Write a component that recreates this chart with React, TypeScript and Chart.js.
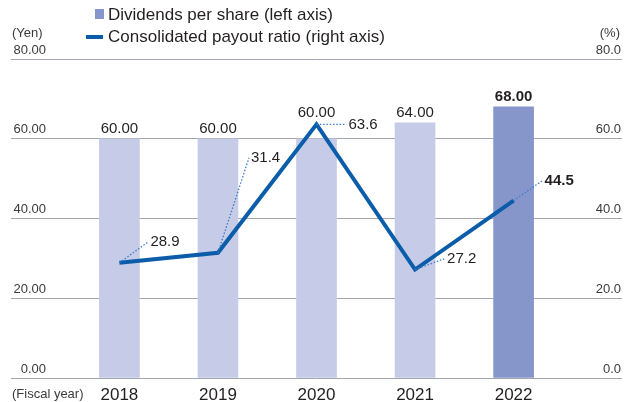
import React, { useEffect, useRef } from "react";
import { Chart, registerables } from "chart.js";

Chart.register(...registerables);

const years = ["2018", "2019", "2020", "2021", "2022"];
const dividends = [60.0, 60.0, 60.0, 64.0, 68.0];
const payoutRatio = [28.9, 31.4, 63.6, 27.2, 44.5];
// label placement offsets (layout only)
const payoutLabelOffsets: [number, number][] = [
  [29, -21],
  [31, -95],
  [30, 0],
  [30, -11],
  [29, -20],
];
const barLabelLift = [10, 10, 26, 10, 10];

const FONT = "'Liberation Sans', Arial, Helvetica, sans-serif";
const LIGHT_BAR = "#c6cbe7";
const DARK_BAR = "#8796ca";
const LINE_COLOR = "#0b5daa";
const TEXT = "#231f20";
const TICK_TEXT = "#3a3a3a";

const overlayPlugin = {
  id: "overlay",
  afterDraw(chart: any) {
    const ctx = chart.ctx as CanvasRenderingContext2D;
    const xS = chart.scales.x;
    const yS = chart.scales.y;
    const y1S = chart.scales.y1;
    ctx.save();
    // y tick labels
    ctx.font = `13px ${FONT}`;
    ctx.fillStyle = TICK_TEXT;
    ctx.textBaseline = "middle";
    ctx.textAlign = "right";
    yS.ticks.forEach((t: any) => {
      const py = yS.getPixelForValue(t.value);
      ctx.fillText(Number(t.value).toFixed(2), 46, py - 9);
    });
    y1S.ticks.forEach((t: any) => {
      const py = y1S.getPixelForValue(t.value);
      ctx.fillText(Number(t.value).toFixed(1), 621, py - 9);
    });
    // unit labels
    ctx.fillText("(%)", 620, 33);
    ctx.textAlign = "left";
    ctx.fillText("(Yen)", 12, 33);
    ctx.fillText("(Fiscal year)", 12, 394);

    // x category labels
    ctx.font = `17px ${FONT}`;
    ctx.fillStyle = TEXT;
    ctx.textAlign = "center";
    years.forEach((yr, i) => {
      ctx.fillText(yr, xS.getPixelForValue(i), 395);
    });

    // legend
    ctx.fillStyle = DARK_BAR;
    ctx.fillRect(95, 9, 9, 10);
    ctx.strokeStyle = LINE_COLOR;
    ctx.lineWidth = 4;
    ctx.beginPath();
    ctx.moveTo(86, 37);
    ctx.lineTo(103, 37);
    ctx.stroke();
    ctx.font = `17px ${FONT}`;
    ctx.fillStyle = TEXT;
    ctx.textAlign = "left";
    ctx.textBaseline = "middle";
    ctx.fillText(chart.data.datasets[1].label, 108, 15);
    ctx.fillText(chart.data.datasets[0].label, 108, 37);

    // bar value labels
    const barMeta = chart.getDatasetMeta(1);
    ctx.textAlign = "center";
    barMeta.data.forEach((el: any, i: number) => {
      const last = i === dividends.length - 1;
      ctx.font = `${last ? "bold " : ""}15px ${FONT}`;
      ctx.fillStyle = TEXT;
      ctx.fillText(dividends[i].toFixed(2), el.x, el.y - barLabelLift[i]);
    });

    // payout labels with dotted leaders
    const lineMeta = chart.getDatasetMeta(0);
    lineMeta.data.forEach((el: any, i: number) => {
      const [dx, dy] = payoutLabelOffsets[i];
      ctx.save();
      ctx.strokeStyle = "#3b7dc9";
      ctx.lineWidth = 1.3;
      ctx.setLineDash([1.5, 1.8]);
      ctx.beginPath();
      ctx.moveTo(el.x, el.y);
      ctx.lineTo(el.x + dx, el.y + dy);
      ctx.stroke();
      ctx.restore();
      const last = i === payoutRatio.length - 1;
      ctx.font = `${last ? "bold " : ""}15px ${FONT}`;
      ctx.fillStyle = TEXT;
      ctx.textAlign = "left";
      ctx.fillText(payoutRatio[i].toFixed(1), el.x + dx + 2, el.y + dy);
    });
    ctx.restore();
  },
};

export default function App() {
  const ref = useRef<HTMLCanvasElement>(null);
  useEffect(() => {
    document.body.style.margin = "0";
    if (!ref.current) return;
    const chart = new Chart(ref.current, {
      type: "bar",
      data: {
        datasets: [
          {
            type: "line",
            label: "Consolidated payout ratio (right axis)",
            data: payoutRatio.map((v, i) => ({ x: i, y: v })),
            yAxisID: "y1",
            borderColor: LINE_COLOR,
            borderWidth: 4,
            pointRadius: 0,
            tension: 0,
            borderJoinStyle: "miter",
            order: 0,
          } as any,
          {
            type: "bar",
            label: "Dividends per share (left axis)",
            data: dividends.map((v, i) => ({ x: i, y: v })),
            yAxisID: "y",
            backgroundColor: dividends.map((_, i) =>
              i === dividends.length - 1 ? DARK_BAR : LIGHT_BAR
            ),
            barThickness: 40,
            order: 1,
          } as any,
        ],
      },
      options: {
        responsive: false,
        animation: false,
        devicePixelRatio: 1,
        layout: { padding: { left: 11, right: 5, top: 59, bottom: 24 } },
        plugins: {
          legend: { display: false },
          tooltip: { enabled: false },
        },
        scales: {
          x: {
            type: "linear",
            min: -1.1,
            max: 5.1,
            offset: false,
            display: false,
            grid: { display: false },
          },
          y: {
            type: "linear",
            position: "left",
            min: 0,
            max: 80,
            ticks: { stepSize: 20, display: false },
            grid: { color: "#a3a7ad", lineWidth: 1, drawTicks: false },
            border: { display: false },
          },
          y1: {
            type: "linear",
            position: "right",
            min: 0,
            max: 80,
            display: false,
            ticks: { stepSize: 20 },
          },
        },
      } as any,
      plugins: [overlayPlugin],
    });
    return () => chart.destroy();
  }, []);
  return (
    <canvas
      ref={ref}
      width={627}
      height={402}
      style={{ display: "block", position: "fixed", left: 0, top: 0, width: 627, height: 402 }}
    />
  );
}
